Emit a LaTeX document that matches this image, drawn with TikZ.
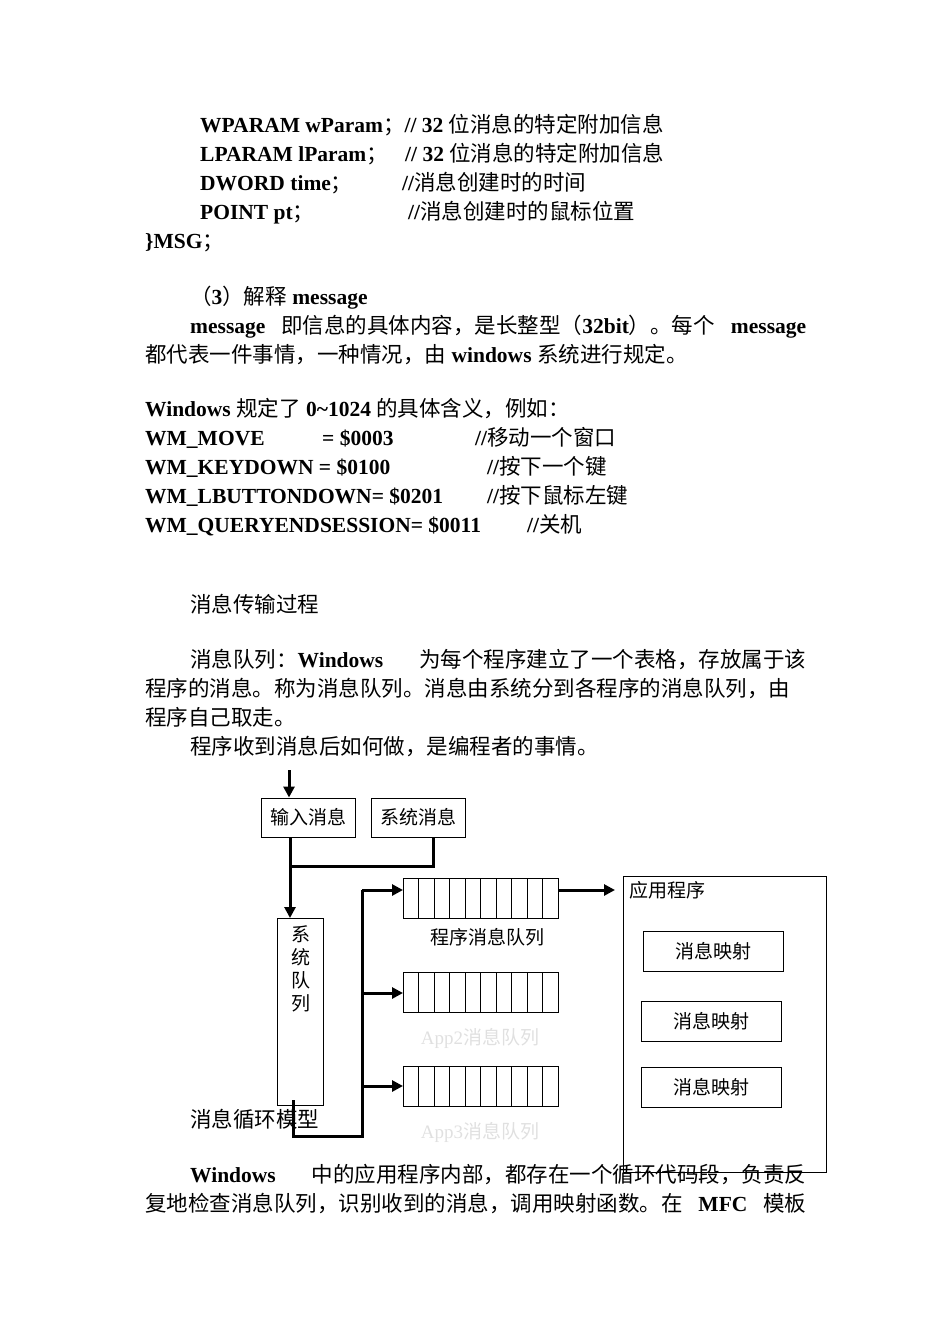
\documentclass[tikz,border=0pt]{standalone}
\usepackage{fontspec}
\setmainfont{Liberation Serif}
\newfontfamily\cjk{Noto Sans CJK SC}
\newcommand{\C}[1]{{\cjk #1}}
\usetikzlibrary{arrows.meta}
\begin{document}
\begin{tikzpicture}[x=1pt,y=-1pt,
  txt/.style={anchor=base west,inner sep=0pt,font=\fontsize{21.5}{24}\selectfont},
  dtxt/.style={inner sep=0pt,font=\fontsize{19}{20}\selectfont\cjk},
  bx/.style={draw,line width=1pt},
  ar/.style={line width=3pt,-{Triangle[length=11pt,width=11pt]}},
  ln/.style={line width=3pt}]
\useasboundingbox (0,0) rectangle (950,1344);
% text
\node[txt] (l1) at (200,132) {\textbf{WPARAM wParam}\C{；}\textbf{// 32} \C{位消息的特定附加信息}};
\node[txt] (l2a) at (200,161) {\textbf{LPARAM lParam}\C{；}};
\node[txt] (l2b) at (405,161) {\textbf{// 32} \C{位消息的特定附加信息}};
\node[txt] (l3a) at (200,190) {\textbf{DWORD time}\C{；}};
\node[txt] (l3b) at (402,190) {\textbf{//}\C{消息创建时的时间}};
\node[txt] (l4a) at (200,219) {\textbf{POINT pt}\C{；}};
\node[txt] (l4b) at (408,219) {\textbf{//}\C{消息创建时的鼠标位置}};
\node[txt] (l5) at (145,248) {\textbf{\}MSG}\C{；}};
\node[txt] (l6) at (190,304) {\C{（}\textbf{3}\C{）解释} \textbf{message}};
\node[txt] (l7) at (190,333) {\hbox to 616pt{\textbf{message}\hfill\C{即信息的具体内容，是长整型（}\textbf{32bit}\C{）。每个}\hfill\textbf{message}}};
\node[txt] (l8) at (145,362) {\C{都代表一件事情，一种情况，由} \textbf{windows} \C{系统进行规定。}};
\node[txt] (l9) at (145,416) {\textbf{Windows} \C{规定了} \textbf{0\textasciitilde1024} \C{的具体含义，例如：}};
\node[txt] (m1) at (145,445) {\textbf{WM\_MOVE}};
\node[txt] (m1b) at (322,445) {\textbf{= \$0003}};
\node[txt] (m1c) at (475,445) {\textbf{//}\C{移动一个窗口}};
\node[txt] (m2) at (145,474) {\textbf{WM\_KEYDOWN = \$0100}};
\node[txt] (m2c) at (487,474) {\textbf{//}\C{按下一个键}};
\node[txt] (m3) at (145,503) {\textbf{WM\_LBUTTONDOWN= \$0201}};
\node[txt] (m3c) at (487,503) {\textbf{//}\C{按下鼠标左键}};
\node[txt] (m4) at (145,532) {\textbf{WM\_QUERYENDSESSION= \$0011}};
\node[txt] (m4c) at (527,532) {\textbf{//}\C{关机}};
\node[txt] (p0) at (190,612) {\C{消息传输过程}};
\node[txt] (p1) at (190,667) {\hbox to 616pt{\C{消息队列：}\textbf{Windows}\hfill\C{为每个程序建立了一个表格，存放属于该}}};
\node[txt] (p2) at (145,696) {\C{程序的消息。称为消息队列。消息由系统分到各程序的消息队列，由}};
\node[txt] (p3) at (145,725) {\C{程序自己取走。}};
\node[txt] (p4) at (190,754) {\C{程序收到消息后如何做，是编程者的事情。}};
\node[txt] (p5) at (190,1127) {\C{消息循环模型}};
\node[txt] (p6) at (190,1182) {\hbox to 616pt{\textbf{Windows}\hfill\C{中的应用程序内部，都存在一个循环代码段，负责反}}};
\node[txt] (p7) at (145,1211) {\hbox to 661pt{\C{复地检查消息队列，识别收到的消息，调用映射函数。在}\hfil\textbf{MFC}\hfil\C{模板}}};
% diagram
\coordinate (top) at (289,770);
\node[bx,minimum width=94pt,minimum height=39pt,dtxt] (in) at (308,817.5) {输入消息};
\node[bx,minimum width=94pt,minimum height=39pt,dtxt] (sys) at (418,817.5) {系统消息};
\draw[ar] (top) -- (top|-in.north);
\node[bx,minimum width=46pt,minimum height=187pt,anchor=north west] (sq) at (277,918) {};
\node[dtxt,align=center,anchor=north] (sqt) at (301,925) {系\\[3pt]统\\[3pt]队\\[3pt]列};
\coordinate (j) at (290,866);
\draw[ln] (in.south -| j) -- (j) -| (sys.south -| 433,0);
\draw[ar] (j) -- (j|-sq.north);
\foreach \i/\y in {1/878,2/972,3/1066}{
  \node[bx,minimum width=155pt,minimum height=40pt,anchor=north west] (q\i) at (403,\y) {};
  \foreach \k in {1,...,9}{\draw[line width=0.8pt] (403+\k*15.5,\y) -- (403+\k*15.5,\y+40);}
}
\coordinate (b1) at (293,1136);
\coordinate (b2) at (362,1136);
\coordinate (t1) at (362,890);
\coordinate (t2) at (362,993);
\coordinate (t3) at (362,1086);
\draw[ln] (293,1100) -- (b1) -- (b2) -- (t1);
\draw[ar] (t1) -- (t1 -| q1.west);
\draw[ar] (t2) -- (t2 -| q2.west);
\draw[ar] (t3) -- (t3 -| q3.west);
\node[dtxt] (l1q) at (487,937) {程序消息队列};
\node[dtxt,text=black!12,font=\fontsize{19}{20}\selectfont] (l2q) at (480,1038) {App2\C{消息队列}};
\node[dtxt,text=black!12,font=\fontsize{19}{20}\selectfont] (l3q) at (480,1132) {App3\C{消息队列}};
\node[bx,minimum width=203pt,minimum height=296pt,anchor=north west] (app) at (623,876) {};
\node[dtxt,anchor=west] (appt) at (629,890) {应用程序};
\coordinate (qo) at (558,890);
\draw[ar] (qo) -- (615,890);
\node[bx,minimum width=140pt,minimum height=40pt,dtxt] (mm1) at (713,951) {消息映射};
\node[bx,minimum width=140pt,minimum height=40pt,dtxt] (mm2) at (711,1021) {消息映射};
\node[bx,minimum width=140pt,minimum height=40pt,dtxt] (mm3) at (711,1087) {消息映射};
\end{tikzpicture}
\end{document}
